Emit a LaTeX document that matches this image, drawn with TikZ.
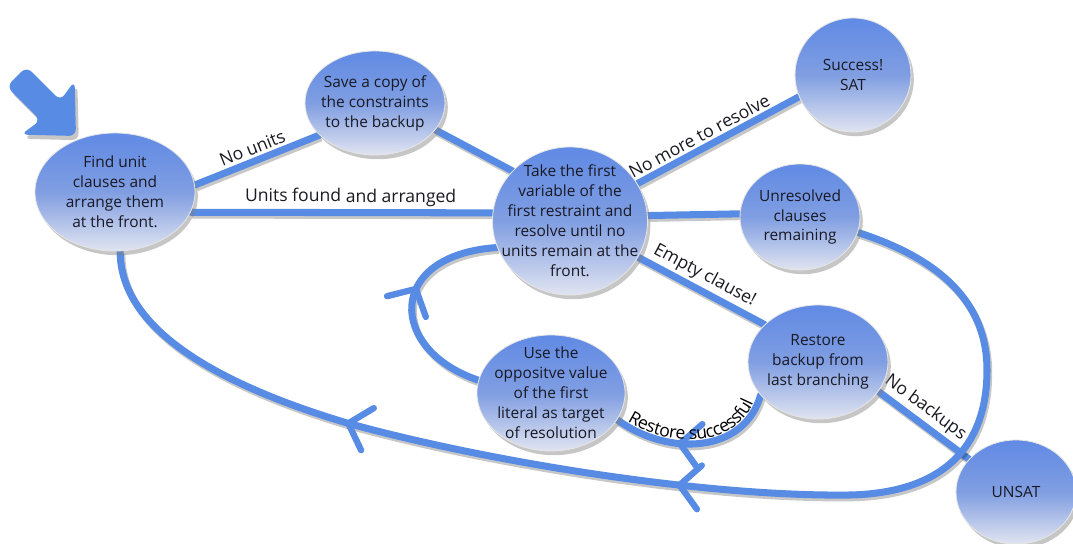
\documentclass[tikz,border=0pt]{standalone}
\usepackage{fontspec}
\setmainfont{Open Sans}
\usetikzlibrary{shapes.geometric,shadows,decorations.markings,decorations.text,arrows.meta}
\pgfdeclarelayer{bg}
\pgfsetlayers{bg,main}
\definecolor{cblue}{RGB}{88,140,228}
\definecolor{ntop}{RGB}{96,138,228}
\definecolor{nmid}{RGB}{128,158,226}
\definecolor{nbot}{RGB}{224,228,240}
\definecolor{ink}{RGB}{25,25,35}
\newcommand\nodefont{\fontsize{11}{14.2}\selectfont}
\newcommand\lblfont{\fontsize{12.5}{15}\selectfont}
\newcommand\barbtip{\arrow[cblue,line width=4.5pt]{Straight Barb[length=5mm,width=11mm,round]}}
\tikzset{
  st/.style={ellipse, draw=white!80!gray, line width=0.6pt, top color=ntop, bottom color=nbot, middle color=nmid,
    drop shadow={shadow xshift=2pt, shadow yshift=-3pt, opacity=0.45}, inner sep=0pt},
  txt/.style={align=center, font=\nodefont, text=ink},
  conn/.style={draw=cblue, line width=5pt, line cap=round,
    preaction={draw=black, opacity=0.22, line width=5pt, transform canvas={shift={(1.2pt,-2pt)}}}},
  lbl/.style={font=\lblfont, text=ink, sloped, inner sep=2pt},
}
\begin{document}
\begin{tikzpicture}[x=0.025cm, y=-0.025cm]
\useasboundingbox (0,0) rectangle (1073,544);

% start arrow
\path[fill=cblue, rounded corners=5pt, drop shadow={shadow xshift=2pt, shadow yshift=-3pt, opacity=0.45}]
  (26.5,66.7) -- (60.4,100.6) -- (74.6,80.8) -- (76,136) -- (20.8,134.6) -- (40.6,120.4) -- (6.7,86.5) -- cycle;

\node[st, minimum width=4cm, minimum height=2.95cm,
  label={[txt]center:{Find unit\\clauses and\\arrange them\\at the front.}}] (find) at (115,192) {};
\node[st, minimum width=3.5cm, minimum height=2.6cm,
  label={[txt]center:{Save a copy of\\the constraints\\to the backup}}] (save) at (375,103) {};
\node[st, minimum width=3.875cm, minimum height=3.7cm,
  label={[txt]center:{Take the first\\variable of the\\first restraint and\\resolve until no\\units remain at the\\front.}}] (take) at (570,221) {};
\node[st, minimum width=2.9cm, minimum height=2.85cm,
  label={[txt]center:{Success!\\SAT}}] (succ) at (853,75) {};
\node[st, minimum width=3.0cm, minimum height=2.65cm,
  label={[txt]center:{Unresolved\\clauses\\remaining}}] (unres) at (800,217) {};
\node[st, minimum width=3.5cm, minimum height=2.85cm,
  label={[txt]center:{Restore\\backup from\\last branching}}] (rest) at (818,362) {};
\node[st, minimum width=3.7cm, minimum height=2.9cm,
  label={[txt]center:{Use the\\oppositve value\\of the first\\literal as target\\of resolution}}] (use) at (551,393) {};
\node[st, minimum width=3.0cm, minimum height=2.6cm,
  label={[txt]center:{UNSAT}}] (unsat) at (1016,492) {};

\begin{pgfonlayer}{bg}
\draw[conn] (find.5) -- node[lbl, above] {No units} (save.210);
\draw[conn] (find.-15) -- node[lbl, above, pos=0.53] {Units found and arranged} (take.174);
\draw[conn] (save.-24) -- (take.139);
\draw[conn] (take.29) -- node[lbl, above, pos=0.42] {No more to resolve} (succ.202);
\draw[conn] (take.4) -- (unres.177);
\draw[conn] (take.-28) -- node[lbl, above, pos=0.47] {Empty clause!} (rest.145);
\draw[conn] (rest.-26) -- node[lbl, above, pos=0.42] {No backups} (unsat.145);
\draw[conn, decoration={markings, mark=at position 0.62 with {\barbtip}}, postaction={decorate}]
  (rest.210) .. controls (745,452) and (670,458) .. (use.-22);
\path[decorate, decoration={text along path, text={|\lblfont|Restore successful}, text align=center, raise=3pt}]
  (use.-22) .. controls (670,458) and (745,452) .. (rest.210);
\draw[conn, decoration={markings, mark=at position 0.58 with {\barbtip}}, postaction={decorate}]
  (use.170) .. controls (388,350) and (385,255) .. (take.200);
\draw[conn, decoration={markings, mark=at position 0.48 with {\barbtip}, mark=at position 0.755 with {\barbtip}}, postaction={decorate}]
  (unres.-15) .. controls (950,262) and (987,310) .. (987,370)
  .. controls (987,450) and (940,493) .. (850,495)
  .. controls (700,497) and (480,460) .. (347,423)
  .. controls (220,385) and (120,330) .. (find.275);
\end{pgfonlayer}
\end{tikzpicture}
\end{document}
